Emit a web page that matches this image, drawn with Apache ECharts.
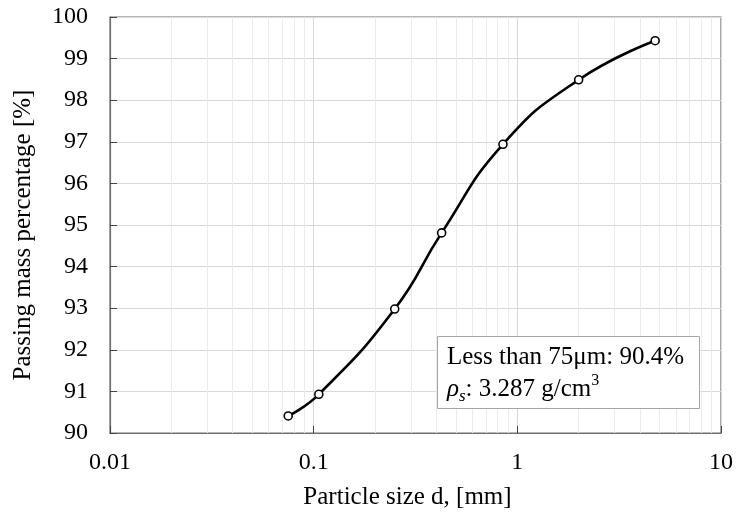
<!DOCTYPE html>
<html>
<head>
<meta charset="utf-8">
<script src="https://cdn.jsdelivr.net/npm/echarts@6/dist/echarts.min.js"></script>
<style>html,body{margin:0;padding:0;background:#fff}#c{width:736px;height:515px}</style>
</head>
<body>
<div id="c"></div>
<script>
const sizes = [0.075, 0.106, 0.25, 0.425, 0.85, 2.0, 4.75];
const passing = [90.41, 90.93, 92.98, 94.81, 96.94, 98.49, 99.43];
const minorX = [0.02,0.03,0.04,0.05,0.06,0.07,0.08,0.09,0.2,0.3,0.4,0.5,0.6,0.7,0.8,0.9,2,3,4,5,6,7,8,9];
const xTitle = 'Particle size d, [mm]';
const yTitle = 'Passing mass percentage [%]';
const note1 = 'Less than 75μm: 90.4%';

const FONT = '"Liberation Serif", "Times New Roman", serif';
const chart = echarts.init(document.getElementById('c'), null, {renderer: 'canvas'});
chart.setOption({
  animation: false,
  backgroundColor: '#fff',
  grid: {left: 110, right: 14, top: 17, bottom: 80, show: true, borderColor: '#707070', borderWidth: 1.2, backgroundColor: 'transparent'},
  xAxis: {
    type: 'log', logBase: 10, min: 0.01, max: 10,
    name: xTitle, nameLocation: 'middle', nameGap: 52,
    nameTextStyle: {fontFamily: FONT, fontSize: 25, color: '#000', padding: [0, 16, 0, 0]},
    axisLine: {show: true, lineStyle: {color: '#707070', width: 1.2}},
    axisTick: {show: true, inside: true, length: 7, lineStyle: {color: '#444'}},
    axisLabel: {fontFamily: FONT, fontSize: 24, color: '#000', margin: 18,
      formatter: v => String(+v.toPrecision(3))},
    splitLine: {show: true, lineStyle: {color: '#d9d9d9', width: 1}}
  },
  yAxis: {
    type: 'value', min: 90, max: 100, interval: 1,
    name: yTitle, nameLocation: 'middle', nameGap: 74,
    nameTextStyle: {fontFamily: FONT, fontSize: 25, color: '#000', padding: [0, 20, 0, 0]},
    axisLine: {show: true, lineStyle: {color: '#707070', width: 1.2}},
    axisTick: {show: true, inside: true, length: 7, lineStyle: {color: '#444'}},
    axisLabel: {fontFamily: FONT, fontSize: 24, color: '#000', margin: 22},
    splitLine: {show: true, lineStyle: {color: '#d9d9d9', width: 1}}
  },
  series: [
    {
      type: 'line', data: [], z: 0, silent: true,
      markLine: {
        silent: true, symbol: ['none', 'none'], animation: false,
        label: {show: false},
        lineStyle: {color: '#ebebeb', type: 'solid', width: 1},
        data: minorX.map(v => ({xAxis: v}))
      }
    },
    {
      type: 'line', z: 5,
      data: sizes.map((s, i) => [s, passing[i]]),
      smooth: 0.5,
      symbol: 'circle', symbolSize: 8,
      itemStyle: {color: '#fff', borderColor: '#000', borderWidth: 1.6},
      lineStyle: {color: '#000', width: 2.6}
    }
  ],
  graphic: [
    {type: 'rect', left: 437, top: 336, z: 10,
      shape: {width: 262, height: 72},
      style: {fill: '#fff', stroke: '#a6a6a6', lineWidth: 1}},
    {type: 'text', left: 447, top: 341, z: 11,
      style: {
        text: note1 + '\n{i|ρ}{sub|s}{n|: 3.287 g/cm}{sup|3}',
        fontFamily: FONT, fontSize: 25, fill: '#000', lineHeight: 32,
        rich: {
          i: {fontFamily: FONT, fontSize: 25, fontStyle: 'italic', lineHeight: 32, verticalAlign: 'middle'},
          sub: {fontFamily: FONT, fontSize: 17, fontStyle: 'italic', lineHeight: 26, verticalAlign: 'bottom'},
          n: {fontFamily: FONT, fontSize: 25, lineHeight: 32},
          sup: {fontFamily: FONT, fontSize: 16, lineHeight: 30, verticalAlign: 'top'}
        }
      }}
  ]
});
</script>
</body>
</html>
